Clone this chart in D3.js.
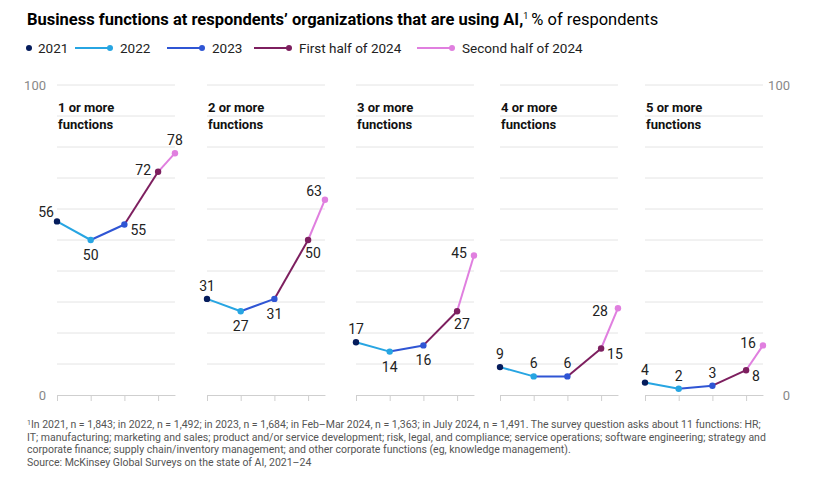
<!DOCTYPE html>
<html>
<head>
<meta charset="utf-8">
<script src="https://cdn.jsdelivr.net/npm/d3@7"></script>
<style>
  body { margin: 0; background: #fff; }
  svg { display: block; font-family: "Roboto", sans-serif; }
</style>
</head>
<body>
<div id="chart"></div>
<script>
// periods along x (H2 2024 sits half a step after H1)
const periods = ["2021", "2022", "2023", "First half of 2024", "Second half of 2024"];
const periodPos = [0, 1, 2, 3, 3.5];
const panels = ["1 or more functions", "2 or more functions", "3 or more functions", "4 or more functions", "5 or more functions"];

const values1 = [56, 50, 55, 72, 78];
const values2 = [31, 27, 31, 50, 63];
const values3 = [17, 14, 16, 27, 45];
const values4 = [9, 6, 6, 15, 28];
const values5 = [4, 2, 3, 8, 16];
const allValues = [values1, values2, values3, values4, values5];

const gridTicks = [0, 10, 20, 30, 40, 50, 60, 70, 80, 90, 100];
const axisLabels = [0, 100];

const footnotes = [
  "In 2021, n = 1,843; in 2022, n = 1,492; in 2023, n = 1,684; in Feb–Mar 2024, n = 1,363; in July 2024, n = 1,491. The survey question asks about 11 functions: HR;",
  "IT; manufacturing; marketing and sales; product and/or service development; risk, legal, and compliance; service operations; software engineering; strategy and",
  "corporate finance; supply chain/inventory management; and other corporate functions (eg, knowledge management).",
  "Source: McKinsey Global Surveys on the state of AI, 2021–24"
];

// label placement per point (style, not data)
const labelPlace = [
  ["upleft", "below", "right", "left", "above"],
  ["above", "below", "below", "downright", "upleft"],
  ["above", "below", "below", "downright", "left"],
  ["above", "above", "above", "right", "farleft"],
  ["above", "above", "above", "right", "left"]
];

const colors = ["#051c5c", "#27a5e2", "#2f55d4", "#7d1f5f", "#e07fdf"];

const width = 813, height = 481;
const svg = d3.select("#chart").append("svg")
  .attr("width", width).attr("height", height);

// title
const title = svg.append("text").attr("x", 27).attr("y", 25)
  .attr("font-size", 16.5).attr("fill", "#000");
title.append("tspan").attr("font-weight", "bold")
  .text("Business functions at respondents’ organizations that are using AI,");
title.append("tspan").attr("font-size", 9).attr("dy", -6).text("1");
title.append("tspan").attr("dy", 6).attr("dx", 3).text("% of respondents");

// legend
const legendX = [27, 75, 167, 254, 417];
const legend = svg.append("g").attr("transform", "translate(0,48)");
periods.forEach((p, i) => {
  const g = legend.append("g").attr("transform", `translate(${legendX[i]},0)`);
  let tx = 11;
  if (i > 0) {
    g.append("line").attr("x1", 0).attr("x2", 35).attr("y1", 0).attr("y2", 0)
      .attr("stroke", colors[i]).attr("stroke-width", 2);
    g.append("circle").attr("cx", 35).attr("cy", 0).attr("r", 3).attr("fill", colors[i]);
    tx = 45;
  } else {
    g.append("circle").attr("cx", 2).attr("cy", 0).attr("r", 3).attr("fill", colors[i]);
  }
  g.append("text").attr("x", tx).attr("y", 0).attr("dy", "0.35em")
    .attr("font-size", 13.5).attr("fill", "#222").text(p);
});

// layout
const y = d3.scaleLinear().domain([0, 100]).range([395, 85]);
const panelX = d3.scaleOrdinal().domain(panels).range([57, 207, 356, 500, 645]);
const step = 33.7;
const x = d3.scaleLinear().domain([0, 3.5]).range([0, step * 3.5]);
const panelW = x(3.5);

// side axis labels
svg.selectAll(".ylab-l").data(axisLabels).enter().append("text")
  .attr("x", 46).attr("y", d => y(d)).attr("dy", "0.35em")
  .attr("text-anchor", "end").attr("font-size", 13).attr("fill", "#888")
  .text(d => d);
svg.selectAll(".ylab-r").data(axisLabels).enter().append("text")
  .attr("x", 790).attr("y", d => y(d)).attr("dy", "0.35em")
  .attr("text-anchor", "end").attr("font-size", 13).attr("fill", "#888")
  .text(d => d);

const offsets = {
  above: [0, -13, "middle"],
  below: [0, 15, "middle"],
  left: [-7, -2, "end"],
  farleft: [-10, 3, "end"],
  right: [6, 6, "start"],
  upleft: [-3, -9, "end"],
  downright: [-3, 13, "start"]
};

panels.forEach((name, pi) => {
  const vals = allValues[pi];
  const g = svg.append("g").attr("transform", `translate(${panelX(name)},0)`);

  g.selectAll(".grid").data(gridTicks.slice(1)).enter().append("line")
    .attr("x1", 0).attr("x2", panelW)
    .attr("y1", d => y(d)).attr("y2", d => y(d))
    .attr("stroke", "#e4e4e4").attr("stroke-width", 1);

  const axis = d3.axisBottom(x).tickValues([0, 1, 2, 3]).tickFormat("").tickSize(6).tickSizeOuter(0);
  const ag = g.append("g").attr("transform", `translate(0,${y(0)})`).call(axis);
  ag.select(".domain").attr("stroke", "#cfcfcf");
  ag.selectAll(".tick line").attr("stroke", "#cfcfcf");

  // panel title
  const words = name.split(" ");
  const t = g.append("text").attr("x", 1).attr("y", 112)
    .attr("font-size", 13).attr("font-weight", "bold").attr("fill", "#111");
  t.append("tspan").attr("x", 1).text(words.slice(0, 3).join(" "));
  t.append("tspan").attr("x", 1).attr("dy", 17).text(words.slice(3).join(" "));

  const pts = vals.map((v, i) => ({ v, i, px: x(periodPos[i]), py: y(v) }));

  // segments colored by the period they end in
  g.selectAll(".seg").data(pts.slice(1)).enter().append("line")
    .attr("x1", d => pts[d.i - 1].px).attr("y1", d => pts[d.i - 1].py)
    .attr("x2", d => d.px).attr("y2", d => d.py)
    .attr("stroke", d => colors[d.i]).attr("stroke-width", 2);

  g.selectAll(".dot").data(pts).enter().append("circle")
    .attr("cx", d => d.px).attr("cy", d => d.py).attr("r", 3.2)
    .attr("fill", d => colors[d.i]);

  g.selectAll(".val").data(pts).enter().append("text")
    .attr("x", d => d.px + offsets[labelPlace[pi][d.i]][0])
    .attr("y", d => d.py + offsets[labelPlace[pi][d.i]][1])
    .attr("dy", "0.35em")
    .attr("text-anchor", d => offsets[labelPlace[pi][d.i]][2])
    .attr("font-size", 14).attr("fill", "#222")
    .text(d => d.v);
});

// footnotes
const fn = svg.append("g").attr("font-size", 10.5).attr("fill", "#555");
footnotes.forEach((line, i) => {
  const t = fn.append("text").attr("x", 27).attr("y", 428 + i * 12.7);
  if (i === 0) {
    t.append("tspan").attr("font-size", 7).attr("dy", -3).text("1");
    t.append("tspan").attr("dy", 3).text(line);
  } else {
    t.text(line);
  }
});
</script>
</body>
</html>
